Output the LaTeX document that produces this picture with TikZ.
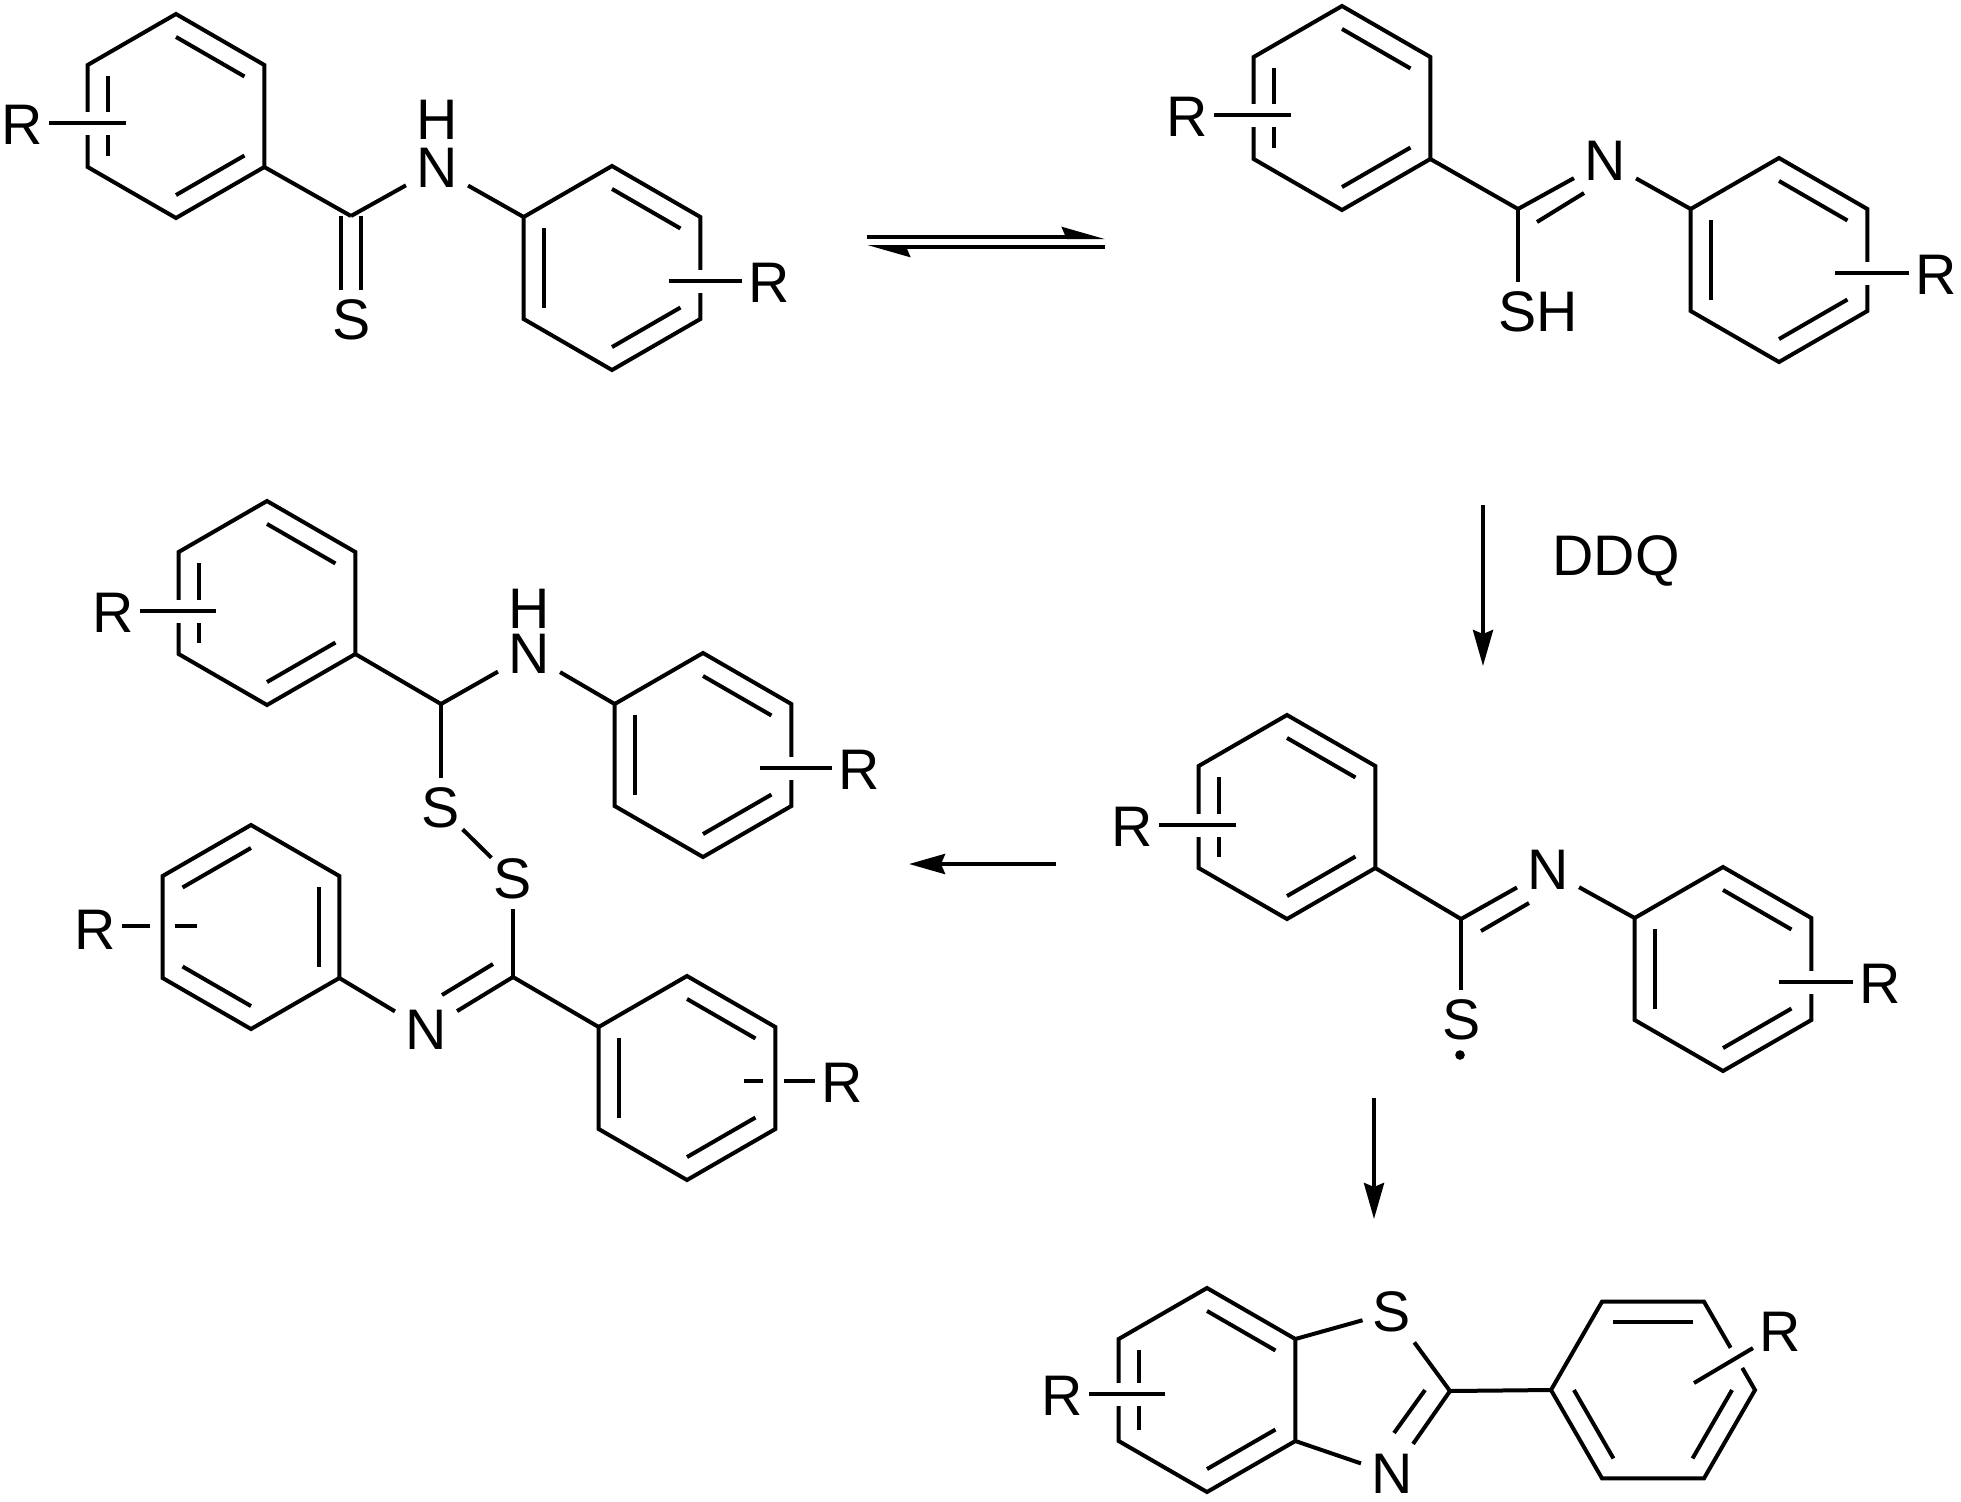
\documentclass[tikz,border=0pt]{standalone}
\usepackage{fontspec}
\setmainfont{Liberation Sans}
\usetikzlibrary{arrows.meta,calc}

\tikzset{
    bond/.style={line width=2pt},
    atom/.style={inner sep=5pt, text depth=0pt, font=\fontsize{28.6}{30}\selectfont},
    rlabel/.style={atom, inner sep=3pt},
    hlabel/.style={atom, inner sep=0pt},
    subst/.style={bond, preaction={draw, white, line width=11.5pt}},
    rxn/.style={bond, -{Stealth[length=18pt, width=10pt, inset=2pt]}},
    eqm/.style={bond, -{Stealth[harpoon, length=18pt, width=10pt, inset=2pt]}}
}

% ring: name, centre x, centre y, turn
\newcommand{\benzring}[4]{
    \coordinate (#1c) at (#2,#3);
    \foreach \i in {1,...,6} {
        \coordinate (#1\i) at ($(#2,#3)+({#4+60*\i-150}:102)$);
    }
    \draw[bond] (#11) -- (#12) -- (#13) -- (#14) -- (#15) -- (#16) -- cycle;
}
\newcommand{\innerbond}[3]{
    \draw[bond] ($(#1#2)!0.225!(#1c)$) -- ($(#1#3)!0.225!(#1c)$);
}
% the three inner bonds most rings have
\newcommand{\innerbonds}[1]{
    \innerbond{#1}{1}{2}
    \innerbond{#1}{3}{4}
    \innerbond{#1}{5}{6}
}

\begin{document}
\begin{tikzpicture}[x=0.5pt, y=-0.5pt]
    \useasboundingbox (0,0) rectangle (1961,1501);

    % Thioamide
    \benzring{aa}{176}{116}{0}
    \innerbonds{aa}
    \benzring{ab}{612}{268}{0}
    \innerbonds{ab}
    \coordinate (c1) at (351,216);
    \node (s1) [atom] at (352,320) {S};
    \node (n1) [atom] at (437,168) {N};
    \node (h1) [hlabel] at (437,120) {H};
    \node (r1) [rlabel] at (22,125) {R};
    \node (r2) [rlabel] at (769,283) {R};
    \coordinate (x1) at (126,123);
    \coordinate (x2) at (669,281);
    \draw[bond, double, double distance=8pt] (c1) -- (c1 |- s1.north);
    \draw[bond] (aa3) -- (c1);
    \draw[bond] (c1) -- (n1);
    \draw[bond] (n1) -- (ab6);
    \draw[subst] (x1 -| r1.east) -- (x1);
    \draw[subst] (x2 -| r2.west) -- (x2);

    % Equilibrium
    \coordinate (e1) at (867,237);
    \coordinate (e2) at (1105,237);
    \coordinate (e3) at (867,247);
    \coordinate (e4) at (1105,247);
    \draw[eqm] (e1) -- (e2);
    \draw[eqm] (e4) -- (e3);

    % Thiol form
    \benzring{ba}{1342}{108}{0}
    \innerbonds{ba}
    \benzring{bb}{1779}{260}{0}
    \innerbonds{bb}
    \coordinate (c2) at (1518,209);
    \coordinate (d1) at (1537,222);
    \coordinate (d2) at (1584,193);
    \node (n2) [atom] at (1605,161) {N};
    \node (sh) [atom] at (1538,312) {SH};
    \node (r3) [rlabel] at (1187,117) {R};
    \node (r4) [rlabel] at (1936,275) {R};
    \coordinate (x3) at (1291,115);
    \coordinate (x4) at (1835,273);
    \draw[bond] (ba3) -- (c2);
    \draw[bond] (c2) -- (n2);
    \draw[bond] (d1) -- (d2);
    \draw[bond] (n2) -- (bb6);
    \draw[bond] (c2) -- (c2 |- sh.north);
    \draw[subst] (x3 -| r3.east) -- (x3);
    \draw[subst] (x4 -| r4.west) -- (x4);

    % DDQ step
    \coordinate (f1) at (1483,505);
    \coordinate (f2) at (1483,666);
    \node (ddq) [atom] at (1616,556) {DDQ};
    \draw[rxn] (f1) -- (f2);

    % Radical
    \benzring{ca}{1287}{817}{0}
    \innerbonds{ca}
    \benzring{cb}{1723}{969}{0}
    \innerbonds{cb}
    \coordinate (c3) at (1461,919);
    \coordinate (d3) at (1481,931);
    \coordinate (d4) at (1529,903);
    \node (n3) [atom] at (1548,870) {N};
    \node (s3) [atom] at (1462,1020) {S};
    \node (dot) [circle, fill, inner sep=1.7pt] at (1460,1055) {};
    \node (r5) [rlabel] at (1132,827) {R};
    \node (r6) [rlabel] at (1880,984) {R};
    \coordinate (x5) at (1236,825);
    \coordinate (x6) at (1779,982);
    \draw[bond] (ca3) -- (c3);
    \draw[bond] (c3) -- (n3);
    \draw[bond] (d3) -- (d4);
    \draw[bond] (n3) -- (cb6);
    \draw[bond] (c3) -- (c3 |- s3.north);
    \draw[subst] (x5 -| r5.east) -- (x5);
    \draw[subst] (x6 -| r6.west) -- (x6);

    % Steps out of the radical
    \coordinate (g1) at (1056,864);
    \coordinate (g2) at (909,864);
    \coordinate (k1) at (1374,1098);
    \coordinate (k2) at (1374,1219);
    \draw[rxn] (g1) -- (g2);
    \draw[rxn] (k1) -- (k2);

    % Disulfide, upper half
    \benzring{da}{267}{603}{0}
    \innerbonds{da}
    \benzring{db}{703}{755}{0}
    \innerbonds{db}
    \coordinate (c4) at (441,704);
    \node (n4) [atom] at (529,654) {N};
    \node (h4) [hlabel] at (529,609) {H};
    \node (s4) [atom] at (441,808) {S};
    \node (r7) [rlabel] at (113,613) {R};
    \node (r8) [rlabel] at (859,770) {R};
    \coordinate (x7) at (216,611);
    \coordinate (x8) at (760,768);
    \draw[bond] (da3) -- (c4);
    \draw[bond] (c4) -- (n4);
    \draw[bond] (n4) -- (db6);
    \draw[bond] (c4) -- (s4);
    \draw[subst] (x7 -| r7.east) -- (x7);
    \draw[subst] (x8 -| r8.west) -- (x8);

    % Disulfide, lower half
    \benzring{dc}{251}{927}{0}
    \innerbond{dc}{6}{1}
    \innerbond{dc}{2}{3}
    \innerbond{dc}{4}{5}
    \benzring{dd}{687}{1078}{0}
    \innerbonds{dd}
    \coordinate (c5) at (513,977);
    \coordinate (d5) at (493,964);
    \coordinate (d6) at (442,995);
    \node (s5) [atom] at (513,879) {S};
    \node (n5) [atom] at (426,1030) {N};
    \node (r9) [rlabel] at (95,930) {R};
    \node (r10) [rlabel] at (842,1083) {R};
    \coordinate (x9) at (150,926);
    \coordinate (x10) at (175,926);
    \coordinate (x11) at (197,926);
    \coordinate (x12) at (784,1081);
    \coordinate (x13) at (763,1081);
    \coordinate (x14) at (744,1081);
    \draw[bond, shorten <=-5.5pt, shorten >=-5.5pt] (s4) -- (s5);
    \draw[bond] (s5) -- (c5);
    \draw[bond] (c5) -- (n5);
    \draw[bond] (d5) -- (d6);
    \draw[bond] (n5) -- (dc3);
    \draw[bond] (c5) -- (dd6);
    \draw[bond] (x9 -| r9.east) -- (x9);
    \draw[bond] (x10) -- (x11);
    \draw[bond] (x12 -| r10.west) -- (x12);
    \draw[bond] (x13) -- (x14);

    % Benzothiazole
    \benzring{ea}{1207}{1390}{0}
    \innerbonds{ea}
    \benzring{eb}{1653}{1390}{30}
    \innerbond{eb}{6}{1}
    \innerbond{eb}{2}{3}
    \innerbond{eb}{4}{5}
    \coordinate (c6) at (1450,1391);
    \coordinate (d7) at (1425,1390);
    \coordinate (d8) at (1394,1433);
    \node (s6) [atom] at (1392,1312) {S};
    \node (n6) [atom] at (1392,1474) {N};
    \node (r11) [rlabel] at (1062,1396) {R};
    \node (r12) [rlabel] at (1780,1332) {R};
    \coordinate (x15) at (1165,1394);
    \coordinate (x16) at (1694,1383);
    \draw[bond] (ea2) -- (s6);
    \draw[bond] (s6) -- (c6);
    \draw[bond] (c6) -- (n6);
    \draw[bond] (d7) -- (d8);
    \draw[bond] (n6) -- (ea3);
    \draw[bond] (c6) -- (eb5);
    \draw[subst] (x15 -| r11.east) -- (x15);
    \draw[subst] (r12) -- (x16);
\end{tikzpicture}
\end{document}
